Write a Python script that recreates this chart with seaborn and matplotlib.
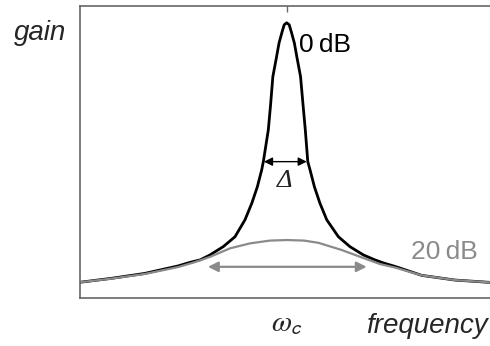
import numpy as np
import pandas as pd
import matplotlib
matplotlib.use("Agg")
import matplotlib.pyplot as plt
import seaborn as sns

# frequency (wc = 1) and gain
freq_0db = [0.0, 0.150, 0.313, 0.474, 0.532, 0.581, 0.629, 0.693, 0.750, 0.798, 0.831,
            0.858, 0.879, 0.887, 0.911, 0.922, 0.933, 0.950, 0.963, 0.978, 0.988,
            1.0, 1.012, 1.022, 1.037, 1.050, 1.067, 1.079, 1.090, 1.102, 1.113,
            1.134, 1.161, 1.194, 1.250, 1.306, 1.371, 1.427, 1.468, 1.526, 1.653,
            1.814, 1.974, 2.0]
gain_0db = [0.057, 0.071, 0.089, 0.116, 0.129, 0.138, 0.156, 0.186, 0.222, 0.283, 0.343,
            0.403, 0.464, 0.494, 0.609, 0.700, 0.802, 0.870, 0.924, 0.965, 0.990,
            0.997, 0.990, 0.965, 0.924, 0.870, 0.802, 0.700, 0.609, 0.494, 0.464,
            0.403, 0.343, 0.283, 0.222, 0.186, 0.156, 0.138, 0.127, 0.114, 0.082,
            0.065, 0.057, 0.056]

freq_20db = [0.0, 0.150, 0.313, 0.474, 0.556, 0.629, 0.726, 0.823, 0.919, 1.0, 1.084,
             1.153, 1.266, 1.363, 1.451, 1.526, 1.653, 1.814, 1.974, 2.0]
gain_20db = [0.057, 0.070, 0.087, 0.112, 0.130, 0.149, 0.180, 0.198, 0.208, 0.210, 0.208,
             0.200, 0.174, 0.147, 0.123, 0.110, 0.082, 0.065, 0.057, 0.056]

# bandwidth arrows (start, end, height)
bw_0db = (0.890, 1.097, 0.494)
bw_20db = (0.619, 1.387, 0.113)

df0 = pd.DataFrame({"freq": freq_0db, "gain": gain_0db})
df20 = pd.DataFrame({"freq": freq_20db, "gain": gain_20db})

sns.set_style("white")
plt.rcParams["font.family"] = ["Liberation Sans", "DejaVu Sans"]
plt.rcParams["mathtext.fontset"] = "stix"

grey = "#8a8a8a"
fig = plt.figure(figsize=(4.9, 3.46), dpi=100)
ax = fig.add_axes([80/490, 48/346, 413.4/490, 292.3/346])

sns.lineplot(data=df0, x="freq", y="gain", color="black", lw=2.0, ax=ax)
sns.lineplot(data=df20, x="freq", y="gain", color=grey, lw=1.6, ax=ax)

ax.set_xlim(0, 2)
ax.set_ylim(0, 1.059)

for s in ["left", "top", "bottom"]:
    ax.spines[s].set_color("#666666")
    ax.spines[s].set_linewidth(1.2)
ax.spines["right"].set_visible(False)

ax.set_yticks([])
ax.set_xticks([1])
ax.set_xticklabels([r"$\omega_\mathsf{c}$"], fontsize=21)
ax.tick_params(axis="x", direction="in", top=True, length=4, width=1,
               color="#666666", pad=8)
ax.set_xlabel("")
ax.set_ylabel("")

ax.annotate("", xy=(bw_0db[0], bw_0db[2]), xytext=(bw_0db[1], bw_0db[2]),
            arrowprops=dict(arrowstyle="<|-|>,head_length=0.5,head_width=0.25",
                            color="black", lw=1.0, shrinkA=0, shrinkB=0))
ax.annotate("", xy=(bw_20db[0], bw_20db[2]), xytext=(bw_20db[1], bw_20db[2]),
            arrowprops=dict(arrowstyle="<|-|>,head_length=0.6,head_width=0.3",
                            color=grey, lw=1.6, shrinkA=0, shrinkB=0))

ax.text(0.992, 0.424, "\u0394", fontsize=19, color="#222222", family="Liberation Serif",
        style="italic", ha="center", va="center")
ax.text(1.06, 0.915, "0\u2009dB", fontsize=19, color="black", ha="left", va="center")
ax.text(1.926, 0.165, "20\u2009dB", fontsize=19, color=grey, ha="right", va="center")

fig.text(40/490, 1 - 33/346, "gain", fontsize=20, style="italic",
         ha="center", va="center")
fig.text(488/490, 1 - 326/346, "frequency", fontsize=20, style="italic",
         ha="right", va="center")

fig.savefig("out.png", dpi=100)
